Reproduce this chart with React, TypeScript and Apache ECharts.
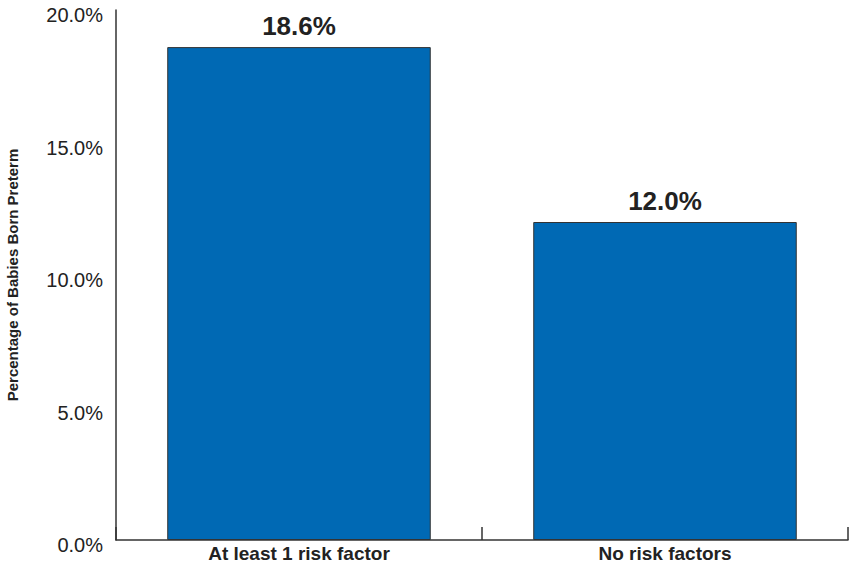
import React, { useEffect, useRef } from "react";
import * as echarts from "echarts";

const categories = ["At least 1 risk factor", "No risk factors"];
const values = [18.6, 12.0];
const yTicks = [0, 5, 10, 15, 20];

const FONT = "'Liberation Sans', Arial, Helvetica, sans-serif";

export default function App() {
  const ref = useRef<HTMLDivElement>(null);

  useEffect(() => {
    if (!ref.current) return;
    const chart = echarts.init(ref.current, undefined, { renderer: "svg" });
    chart.setOption({
      animation: false,
      textStyle: { fontFamily: FONT },
      grid: {
        left: 116,
        right: 4,
        top: 10,
        bottom: 26,
        containLabel: false,
        outerBoundsMode: "none",
      },
      xAxis: {
        type: "category",
        data: categories,
        axisLine: { lineStyle: { color: "#333", width: 1.5 } },
        axisTick: { show: true, inside: true, length: 13, lineStyle: { color: "#333", width: 1.5 } },
        axisLabel: { color: "#222", fontSize: 19, fontWeight: "bold", fontFamily: FONT, margin: 4 },
      },
      yAxis: {
        type: "value",
        min: yTicks[0],
        max: yTicks[yTicks.length - 1],
        interval: 5,
        name: "Percentage of Babies Born Preterm",
        nameLocation: "middle",
        nameGap: 96,
        nameTextStyle: { color: "#222", fontSize: 15, fontWeight: "bold", fontFamily: FONT },
        axisLine: { show: true, lineStyle: { color: "#333", width: 1.5 } },
        axisTick: { show: false },
        splitLine: { show: false },
        axisLabel: {
          color: "#222",
          fontSize: 20,
          fontFamily: FONT,
          margin: 13,
          verticalAlign: "top",
          lineHeight: 10,
          formatter: (v: number) => v.toFixed(1) + "%",
        },
      },
      series: [
        {
          type: "bar",
          data: values,
          barWidth: "72%",
          itemStyle: { color: "#0069B4", borderColor: "#333", borderWidth: 1 },
          label: {
            show: true,
            position: "top",
            distance: 8,
            color: "#222",
            fontSize: 26,
            fontWeight: "bold",
            fontFamily: FONT,
            formatter: (p: any) => p.value.toFixed(1) + "%",
          },
        },
      ],
    });
    return () => chart.dispose();
  }, []);

  return <div ref={ref} style={{ width: 852, height: 566, position: "fixed", left: 0, top: 0, background: "#fff" }} />;
}
